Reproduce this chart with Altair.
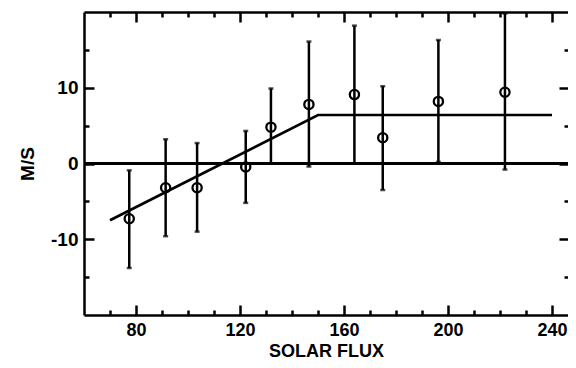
import altair as alt
import pandas as pd

# ---- data ----
flux = [77.4, 91.4, 103.5, 122.2, 131.9, 146.5, 164.0, 174.9, 196.3, 221.9]
ms = [-7.3, -3.2, -3.2, -0.45, 4.8, 7.8, 9.1, 3.4, 8.2, 9.4]
hi = [-0.9, 3.2, 2.7, 4.3, 9.9, 16.1, 18.2, 10.2, 16.3, 19.8]
lo = [-13.8, -9.6, -9.0, -5.2, 0.0, -0.4, 0.0, -3.5, 0.2, -0.8]

fit_x = [70, 150, 240]
fit_y = [-7.5, 6.4, 6.4]

x_major = [80, 120, 160, 200, 240]
x_minor = [70, 90, 100, 110, 130, 140, 150, 170, 180, 190, 210, 220, 230]
y_major = [-10, 0, 10]
y_minor = [-15, -5, 5, 15]

pts = pd.DataFrame({"flux": flux, "ms": ms, "hi": hi, "lo": lo})
fit = pd.DataFrame({"x": fit_x, "y": fit_y})

FONT = "Liberation Sans"
LW = 2.5
# 2.6 px per flux unit; the page is 560px wide inside its margins
xs = alt.Scale(domain=[60, 246.15], nice=False, zero=False, padding=0)
ys = alt.Scale(domain=[-20, 20], nice=False, zero=False, padding=0)


def ax(**kw):
    base = dict(grid=False, labels=False, ticks=False, domain=False, title="",
                domainColor="black", domainWidth=LW, tickColor="black",
                tickWidth=LW, labelColor="black", titleColor="black",
                labelFont=FONT, titleFont=FONT, labelFontWeight="bold",
                titleFontWeight="bold")
    base.update(kw)
    return alt.Axis(**base)


# axes: labelled spines
x_lab = ax(orient="bottom", domain=True, labels=True, values=x_major,
           labelFontSize=18, labelPadding=6, tickSize=0,
           labelExpr="'' + datum.value",
           title="SOLAR FLUX", titleFontSize=18, titleY=41,
           titleBaseline="alphabetic")
y_lab = ax(orient="left", domain=True, labels=True, values=y_major,
           labelFontSize=19, labelPadding=6, tickSize=0,
           labelExpr="'' + datum.value",
           title="M/S", titleFontSize=19, titlePadding=13)
# inward ticks
x_bmaj = ax(orient="bottom", ticks=True, values=x_major, tickSize=10, offset=-10)
x_bmin = ax(orient="bottom", ticks=True, values=x_minor, tickSize=5, offset=-5)
x_top = ax(orient="top", domain=True, values=x_major, tickSize=0)
x_tmaj = ax(orient="top", ticks=True, values=x_major, tickSize=10, offset=-10)
x_tmin = ax(orient="top", ticks=True, values=x_minor, tickSize=5, offset=-5)
y_lmaj = ax(orient="left", ticks=True, values=y_major, tickSize=10, offset=-10)
y_lmin = ax(orient="left", ticks=True, values=y_minor, tickSize=5, offset=-5)
y_rmaj = ax(orient="right", ticks=True, values=y_major, tickSize=9, offset=-9)
y_rmin = ax(orient="right", ticks=True, values=y_minor, tickSize=4, offset=-4)

zero = alt.Chart(pts).mark_rule(color="black", strokeWidth=LW).encode(
    y=alt.YDatum(0, scale=ys, axis=None)
)

fit_line = alt.Chart(fit).mark_line(color="black", strokeWidth=2.7, clip=True).encode(
    x=alt.X("x:Q", scale=xs, axis=x_lab),
    y=alt.Y("y:Q", scale=ys, axis=y_lab),
)

bars = alt.Chart(pts).mark_rule(color="black", strokeWidth=LW, clip=True).encode(
    x=alt.X("flux:Q", scale=xs, axis=x_bmaj),
    y=alt.Y("lo:Q", scale=ys, axis=y_lmaj),
    y2="hi:Q",
)

caps_lo = alt.Chart(pts).mark_tick(color="black", orient="horizontal", size=5,
                                    thickness=2.5, clip=True).encode(
    x=alt.X("flux:Q", scale=xs, axis=x_bmin),
    y=alt.Y("lo:Q", scale=ys, axis=y_lmin),
)

caps_hi = alt.Chart(pts).mark_tick(color="black", orient="horizontal", size=5,
                                    thickness=2.5, clip=True).encode(
    x=alt.X("flux:Q", scale=xs, axis=x_top),
    y=alt.Y("hi:Q", scale=ys, axis=y_rmaj),
)

circles = alt.Chart(pts).mark_point(shape="circle", filled=False, color="black",
                                    strokeWidth=2.3, size=85, opacity=1).encode(
    x=alt.X("flux:Q", scale=xs, axis=x_tmaj),
    y=alt.Y("ms:Q", scale=ys, axis=y_rmin),
)

ghost = alt.Chart(pts).mark_point(opacity=0).encode(
    x=alt.X("flux:Q", scale=xs, axis=x_tmin),
    y=alt.Y("ms:Q", scale=ys, axis=None),
)

chart = alt.layer(zero, fit_line, bars, caps_lo, caps_hi, circles, ghost).resolve_axis(
    x="independent", y="independent"
).properties(
    width=484, height=303,
    autosize=alt.AutoSizeParams(type="none"),
    padding={"left": 76, "top": 4, "right": 0, "bottom": 45},
    background="white",
).configure_view(strokeWidth=0)

chart.save("out.html", embed_options={"renderer": "svg", "actions": False})
